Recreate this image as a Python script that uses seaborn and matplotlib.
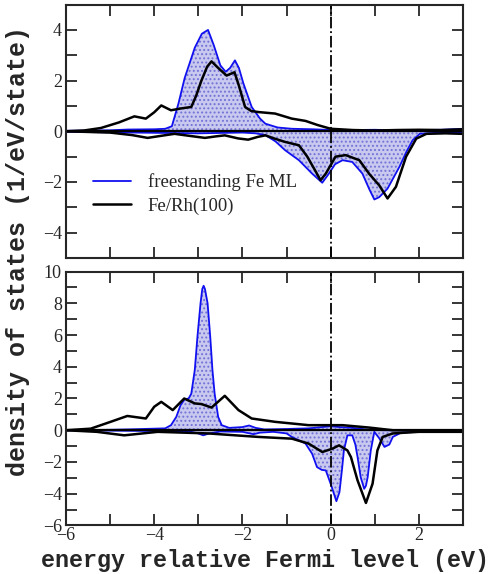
import matplotlib
matplotlib.use("Agg")
import matplotlib.pyplot as plt
import seaborn as sns
from matplotlib.ticker import MultipleLocator

# data (energy in eV, DOS in 1/eV/state)

# top panel, freestanding Fe ML, majority
top_fs_up_e = [-6.0, -5.0, -4.6, -4.0, -3.75, -3.6, -3.45, -3.31, -3.08, -2.92, -2.78, -2.65, -2.5,
               -2.38, -2.28, -2.17, -2.08, -1.98, -1.79, -1.6, -1.48, -1.2, -0.88, -0.4, 0.0, 0.5,
               1.0, 1.5, 2.0, 2.5, 3.0]
top_fs_up_v = [0.02, 0.04, 0.07, 0.08, 0.1, 0.2, 1.1, 2.1, 3.3, 3.85, 4.0, 3.4, 2.6,
               2.35, 2.5, 2.8, 2.5, 1.9, 0.96, 0.5, 0.3, 0.15, 0.1, 0.08, 0.05, 0.05,
               0.06, 0.04, 0.05, 0.06, 0.1]
# top panel, freestanding Fe ML, minority
top_fs_dn_e = [-6.0, -5.0, -4.0, -3.0, -2.0, -1.7, -1.48, -1.25, -1.03, -0.72, -0.42, -0.19, -0.04,
               0.1, 0.27, 0.49, 0.72, 0.88, 0.99, 1.1, 1.29, 1.56, 1.72, 1.86, 2.02, 2.5, 3.0]
top_fs_dn_v = [-0.02, -0.04, -0.06, -0.08, -0.05, -0.08, -0.15, -0.4, -0.75, -1.14, -1.67, -2.03, -1.67,
               -1.3, -1.14, -1.21, -1.67, -2.3, -2.69, -2.6, -2.26, -1.4, -0.8, -0.35, -0.1, -0.05, -0.05]
# top panel, Fe/Rh(100), majority
top_rh_up_e = [-6.0, -5.6, -5.21, -4.8, -4.45, -4.19, -4.0, -3.84, -3.62, -3.4, -3.16, -3.05, -2.93,
               -2.8, -2.7, -2.55, -2.36, -2.18, -2.08, -1.94, -1.8, -1.64, -1.26, -0.88, -0.57, -0.3,
               0.0, 0.5, 1.0, 1.5, 2.0, 2.5, 3.0]
top_rh_up_v = [0.0, 0.03, 0.13, 0.35, 0.59, 0.5, 0.75, 1.02, 0.83, 0.9, 0.96, 1.4, 2.0,
               2.55, 2.76, 2.5, 2.2, 2.33, 1.8, 0.96, 0.8, 0.76, 0.7, 0.5, 0.41, 0.25,
               0.1, 0.05, 0.03, 0.05, 0.06, 0.05, 0.08]
# top panel, Fe/Rh(100), minority
top_rh_dn_e = [-6.0, -5.0, -4.5, -4.15, -3.85, -3.54, -3.2, -2.85, -2.6, -2.4, -2.1, -1.87, -1.65,
               -1.48, -1.25, -1.03, -0.72, -0.53, -0.35, -0.23, -0.11, 0.11, 0.34, 0.65, 0.87, 1.1,
               1.29, 1.48, 1.71, 1.94, 2.17, 2.6, 3.0]
top_rh_dn_v = [0.0, -0.05, -0.15, -0.26, -0.18, -0.1, -0.18, -0.26, -0.2, -0.16, -0.28, -0.33, -0.22,
               -0.16, -0.3, -0.42, -0.55, -1.0, -1.55, -1.93, -1.67, -1.0, -0.94, -1.14, -1.67, -2.13,
               -2.65, -2.19, -1.0, -0.29, -0.1, -0.08, -0.1]

# bottom panel, freestanding Fe ML, majority
bot_fs_up_e = [-6.0, -5.0, -4.5, -4.0, -3.75, -3.62, -3.5, -3.4, -3.31, -3.22, -3.16, -3.08, -3.02,
               -2.95, -2.91, -2.88, -2.85, -2.79, -2.73, -2.68, -2.63, -2.55, -2.47, -2.3, -2.0,
               -1.85, -1.7, -1.5, -1.0, -0.5, 0.0, 0.2, 0.5, 0.8, 1.2, 2.0, 3.0]
bot_fs_up_v = [0.0, 0.03, 0.06, 0.1, 0.12, 0.32, 0.84, 1.6, 1.95, 2.0, 2.3, 3.8, 5.9,
               8.0, 8.9, 9.1, 8.9, 8.0, 5.9, 3.8, 2.3, 0.84, 0.32, 0.15, 0.2,
               0.3, 0.15, 0.05, 0.08, 0.12, 0.25, 0.2, 0.15, 0.05, 0.0, 0.0, 0.0]
# bottom panel, freestanding Fe ML, minority
bot_fs_dn_e = [-6.0, -4.0, -3.2, -3.0, -2.89, -2.75, -2.5, -2.0, -1.75, -1.6, -1.3, -1.0, -0.88,
               -0.57, -0.42, -0.31, -0.2, -0.11, 0.0, 0.13, 0.2, 0.26, 0.3, 0.38, 0.49, 0.56, 0.61,
               0.68, 0.76, 0.8, 0.84, 0.91, 0.99, 1.1, 1.22, 1.33, 1.41, 1.6, 2.0, 3.0]
bot_fs_dn_v = [0.0, -0.05, -0.08, -0.2, -0.32, -0.2, -0.08, -0.1, -0.25, -0.15, -0.1, -0.2, -0.42,
               -0.84, -1.48, -2.32, -2.5, -2.53, -3.37, -4.47, -3.9, -2.4, -1.27, -0.32, -0.32, -0.9, -1.69,
               -2.95, -3.69, -3.5, -2.95, -1.27, -0.1, -0.5, -1.05, -0.9, -0.42, -0.15, -0.1, -0.05]
# bottom panel, Fe/Rh(100), majority
bot_rh_up_e = [-6.0, -5.44, -4.99, -4.61, -4.19, -4.0, -3.84, -3.58, -3.32, -3.08, -2.93, -2.7, -2.4,
               -2.09, -1.79, -1.26, -0.5, 0.27, 0.87, 1.41, 2.0, 3.0]
bot_rh_up_v = [0.0, 0.1, 0.53, 0.9, 0.74, 1.48, 1.79, 1.27, 2.0, 1.69, 1.65, 1.43, 2.17,
               1.27, 0.74, 0.53, 0.32, 0.32, 0.17, 0.0, 0.0, 0.0]
# bottom panel, Fe/Rh(100), minority
bot_rh_dn_e = [-6.0, -5.3, -4.68, -3.92, -2.78, -1.64, -0.88, -0.5, -0.19, 0.04, 0.19, 0.38, 0.46,
               0.61, 0.8, 0.95, 1.06, 1.18, 1.41, 2.0, 3.0]
bot_rh_dn_v = [0.0, -0.1, -0.32, -0.1, -0.2, -0.42, -0.53, -0.84, -1.37, -1.16, -0.95, -1.27, -1.69,
               -3.16, -4.58, -3.37, -1.27, -0.42, -0.2, -0.1, -0.1]

sns.set_style("ticks")
plt.rcParams['font.family'] = ['Liberation Serif', 'DejaVu Serif']
plt.rcParams['hatch.linewidth'] = 0.9

blue = '#1010f0'
fill_col = '#c9c9f0'

fig = plt.figure(figsize=(4.94, 5.74), dpi=100)
ax_top = fig.add_axes([0.1336, 0.5505, 0.8036, 0.4415])
ax_bot = fig.add_axes([0.1336, 0.0845, 0.8036, 0.4425])

panels = [
    (ax_top, top_fs_up_e, top_fs_up_v, top_fs_dn_e, top_fs_dn_v,
     top_rh_up_e, top_rh_up_v, top_rh_dn_e, top_rh_dn_v),
    (ax_bot, bot_fs_up_e, bot_fs_up_v, bot_fs_dn_e, bot_fs_dn_v,
     bot_rh_up_e, bot_rh_up_v, bot_rh_dn_e, bot_rh_dn_v),
]

for ax, fue, fuv, fde, fdv, rue, ruv, rde, rdv in panels:
    for e, v in [(fue, fuv), (fde, fdv)]:
        ax.fill_between(e, v, 0, facecolor=fill_col, edgecolor='#7272d6',
                        hatch='....', linewidth=0)
    sns.lineplot(x=fue, y=fuv, ax=ax, color=blue, lw=1.3, sort=False,
                 label='freestanding Fe ML')
    sns.lineplot(x=fde, y=fdv, ax=ax, color=blue, lw=1.3, sort=False)
    sns.lineplot(x=rue, y=ruv, ax=ax, color='black', lw=1.8, sort=False,
                 label='Fe/Rh(100)')
    sns.lineplot(x=rde, y=rdv, ax=ax, color='black', lw=1.8, sort=False)
    ax.axhline(0, color='black', lw=1.6)
    ax.axvline(0, color='black', lw=1.3, ls='-.')
    ax.set_xlim(-6, 3)
    ax.xaxis.set_major_locator(MultipleLocator(2))
    ax.xaxis.set_minor_locator(MultipleLocator(1))
    ax.yaxis.set_major_locator(MultipleLocator(2))
    ax.yaxis.set_minor_locator(MultipleLocator(1))
    ax.tick_params(which='both', direction='in', top=True, right=True,
                   length=8, width=1.3, labelsize=13, pad=3)
    for s in ax.spines.values():
        s.set_linewidth(1.5)
    ax.set_xlabel('')
    ax.set_ylabel('')

ax_top.set_ylim(-5, 5)
ax_top.set_yticks([-4, -2, 0, 2, 4])
ax_top.tick_params(labelbottom=False)
ax_bot.set_ylim(-6, 10)
ax_bot.tick_params(axis='x', pad=1)

ax_top.legend(loc='lower left', bbox_to_anchor=(0.05, 0.14), frameon=False,
              fontsize=13.5, handlelength=2.0, handletextpad=0.9, labelspacing=0.35,
              borderaxespad=0)
ax_bot.get_legend().remove()

fig.text(0.536, 0.024, 'energy relative Fermi level (eV)', ha='center', va='center',
         family='Liberation Mono', fontweight='bold', fontsize=16.8)
fig.text(0.036, 0.562, 'density of states (1/eV/state)', ha='center', va='center',
         rotation=90, family='Liberation Mono', fontweight='bold', fontsize=18)

fig.savefig('out.png', dpi=100)
